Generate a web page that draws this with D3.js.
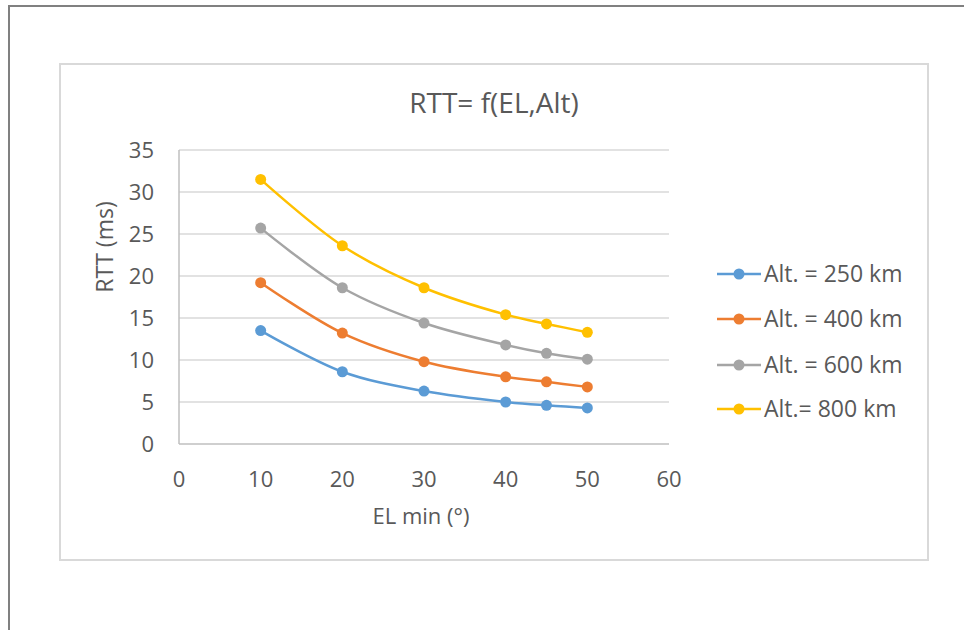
<!DOCTYPE html>
<html>
<head>
<meta charset="utf-8">
<script src="https://cdn.jsdelivr.net/npm/d3@7"></script>
<style>
  body { margin: 0; background: #fff; }
  text { font-family: "Open Sans", sans-serif; fill: #595959; }
</style>
</head>
<body>
<svg width="964" height="630"></svg>
<script>
// data
var elevations = [10, 20, 30, 40, 45, 50];
var alt250 = [13.5, 8.6, 6.3, 5.0, 4.6, 4.3];
var alt400 = [19.2, 13.2, 9.8, 8.0, 7.4, 6.8];
var alt600 = [25.7, 18.6, 14.4, 11.8, 10.8, 10.1];
var alt800 = [31.5, 23.6, 18.6, 15.4, 14.3, 13.3];
var seriesNames = ["Alt. = 250 km", "Alt. = 400 km", "Alt. = 600 km", "Alt.= 800 km"];
var seriesColors = ["#5b9bd5", "#ed7d31", "#a5a5a5", "#ffc000"];
var xTicks = [0, 10, 20, 30, 40, 50, 60];
var yTicks = [0, 5, 10, 15, 20, 25, 30, 35];

var svg = d3.select("svg");

// outer frame (only top and left visible)
svg.append("path")
    .attr("d", "M9,630V6H964")
    .attr("fill", "none")
    .attr("stroke", "#808080")
    .attr("stroke-width", 2);

// chart area box
svg.append("rect")
    .attr("x", 60).attr("y", 64)
    .attr("width", 868).attr("height", 496)
    .attr("fill", "#fff")
    .attr("stroke", "#d9d9d9")
    .attr("stroke-width", 2);

var x = d3.scaleLinear().domain([0, 60]).range([179, 669]);
var y = d3.scaleLinear().domain([0, 35]).range([444, 150]);

// gridlines
svg.append("g").selectAll("line")
    .data(yTicks.slice(1))
    .enter().append("line")
    .attr("x1", x(0)).attr("x2", x(60))
    .attr("y1", function (d) { return y(d); })
    .attr("y2", function (d) { return y(d); })
    .attr("stroke", "#d9d9d9")
    .attr("stroke-width", 1.5);

// axes lines
svg.append("line")
    .attr("x1", x(0)).attr("x2", x(60))
    .attr("y1", y(0)).attr("y2", y(0))
    .attr("stroke", "#bfbfbf").attr("stroke-width", 1.5);
svg.append("line")
    .attr("x1", x(0)).attr("x2", x(0))
    .attr("y1", y(0)).attr("y2", y(35))
    .attr("stroke", "#bfbfbf").attr("stroke-width", 1.5);

// tick labels
svg.append("g").selectAll("text")
    .data(yTicks)
    .enter().append("text")
    .attr("x", 154)
    .attr("y", function (d) { return y(d); })
    .attr("dy", "0.35em")
    .attr("text-anchor", "end")
    .style("font-size", "22px")
    .text(function (d) { return d; });

svg.append("g").selectAll("text")
    .data(xTicks)
    .enter().append("text")
    .attr("x", function (d) { return x(d); })
    .attr("y", 487)
    .attr("text-anchor", "middle")
    .style("font-size", "22px")
    .text(function (d) { return d; });

// titles
svg.append("text")
    .attr("x", 494).attr("y", 113)
    .attr("text-anchor", "middle")
    .style("font-size", "28px")
    .text("RTT= f(EL,Alt)");

svg.append("text")
    .attr("x", 421).attr("y", 524)
    .attr("text-anchor", "middle")
    .style("font-size", "22px")
    .text("EL min (°)");

svg.append("text")
    .attr("transform", "translate(113,247) rotate(-90)")
    .attr("text-anchor", "middle")
    .style("font-size", "23px")
    .text("RTT (ms)");

// series
var allSeries = [alt250, alt400, alt600, alt800];
var line = d3.line()
    .x(function (d, i) { return x(elevations[i]); })
    .y(function (d) { return y(d); })
    .curve(d3.curveCatmullRom);

allSeries.forEach(function (vals, s) {
    var g = svg.append("g");
    g.append("path")
        .datum(vals)
        .attr("d", line)
        .attr("fill", "none")
        .attr("stroke", seriesColors[s])
        .attr("stroke-width", 2.5);
    g.selectAll("circle")
        .data(vals)
        .enter().append("circle")
        .attr("cx", function (d, i) { return x(elevations[i]); })
        .attr("cy", function (d) { return y(d); })
        .attr("r", 5.5)
        .attr("fill", seriesColors[s]);
});

// legend
var legend = svg.append("g").selectAll("g")
    .data(seriesNames)
    .enter().append("g")
    .attr("transform", function (d, i) { return "translate(0," + [274, 319, 365, 409][i] + ")"; });
legend.append("line")
    .attr("x1", 717).attr("x2", 761)
    .attr("stroke", function (d, i) { return seriesColors[i]; })
    .attr("stroke-width", 2.5);
legend.append("circle")
    .attr("cx", 739).attr("r", 5.5)
    .attr("fill", function (d, i) { return seriesColors[i]; });
legend.append("text")
    .attr("x", 764)
    .attr("dy", "0.35em")
    .style("font-size", "23px")
    .text(function (d) { return d; });
</script>
</body>
</html>
